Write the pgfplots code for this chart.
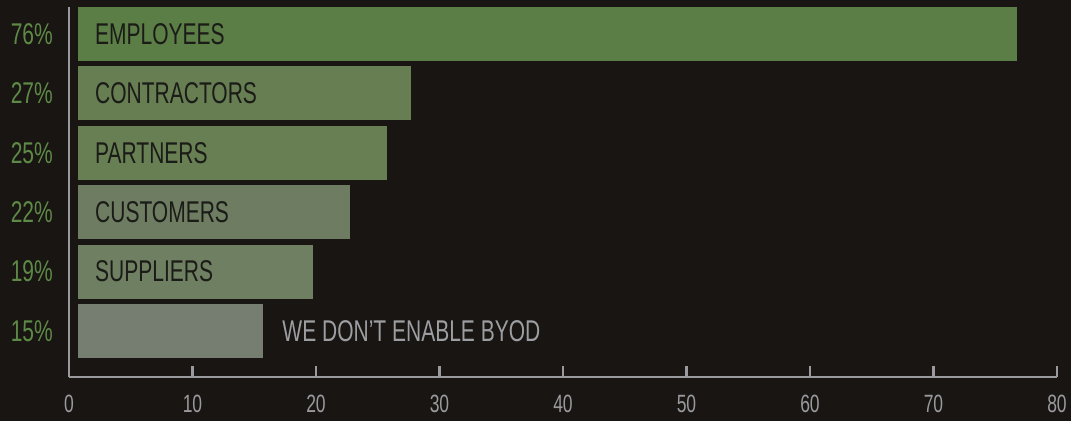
\documentclass[border=0pt]{standalone}
\usepackage{fontspec}
\setmainfont{Liberation Sans}[FakeStretch=0.7]
\usepackage{pgfplots}
\pgfplotsset{compat=1.18}
\definecolor{bg}{HTML}{181512}
\definecolor{axgray}{HTML}{9A9A9E}
\definecolor{pctgreen}{HTML}{5E8A47}
\definecolor{cA}{HTML}{5B7D46}
\definecolor{cB}{HTML}{667E52}
\definecolor{cC}{HTML}{677F53}
\definecolor{cD}{HTML}{6E7D62}
\definecolor{cE}{HTML}{6F7F61}
\definecolor{cF}{HTML}{767E72}
\definecolor{labdark}{HTML}{1B1B17}
\definecolor{labgray}{HTML}{9D9EA2}
\begin{document}
\begin{tikzpicture}
\fill[bg] (-69pt,-44pt) rectangle (1002pt,377pt);
\begin{axis}[
  at={(0,0)}, anchor=south west,
  scale only axis, width=988pt, height=370pt,
  xmin=0, xmax=80, ymin=-0.774, ymax=5.455,
  axis lines=left,
  axis line style={-, axgray, line width=2.8pt},
  xtick={0,10,...,80},
  tick align=inside,
  x tick style={axgray, line width=2.8pt},
  major tick length=11pt,
  ytick={0,1,2,3,4,5},
  yticklabels={15\%,19\%,22\%,25\%,27\%,76\%},
  y tick style={draw=none},
  /pgf/number format/assume math mode=true,
  x tick label style={inner sep=0pt, yshift=-18pt, text=axgray, font=\fontsize{25}{25}\selectfont},
  y tick label style={anchor=east, inner sep=0pt, xshift=-5pt, text=pctgreen, font=\fontsize{30}{30}\selectfont},
  xbar, bar width=54pt,
  every axis plot/.append style={draw=none, bar shift=0pt, xshift=9pt},
  clip=false,
]
\addplot[fill=cA] coordinates {(76,5)};
\addplot[fill=cB] coordinates {(27,4)};
\addplot[fill=cC] coordinates {(25,3)};
\addplot[fill=cD] coordinates {(22,2)};
\addplot[fill=cE] coordinates {(19,1)};
\addplot[fill=cF] coordinates {(15,0)};
\begin{scope}[every node/.style={anchor=west, inner sep=0pt, font=\fontsize{30}{30}\selectfont}]
\node[text=labdark, xshift=26pt] at (axis cs:0,5) {EMPLOYEES};
\node[text=labdark, xshift=26pt] at (axis cs:0,4) {CONTRACTORS};
\node[text=labdark, xshift=26pt] at (axis cs:0,3) {PARTNERS};
\node[text=labdark, xshift=26pt] at (axis cs:0,2) {CUSTOMERS};
\node[text=labdark, xshift=26pt] at (axis cs:0,1) {SUPPLIERS};
\node[text=labgray, xshift=28pt] at (axis cs:15,0) {WE DON’T ENABLE BYOD};
\end{scope}
\end{axis}
\end{tikzpicture}
\end{document}
